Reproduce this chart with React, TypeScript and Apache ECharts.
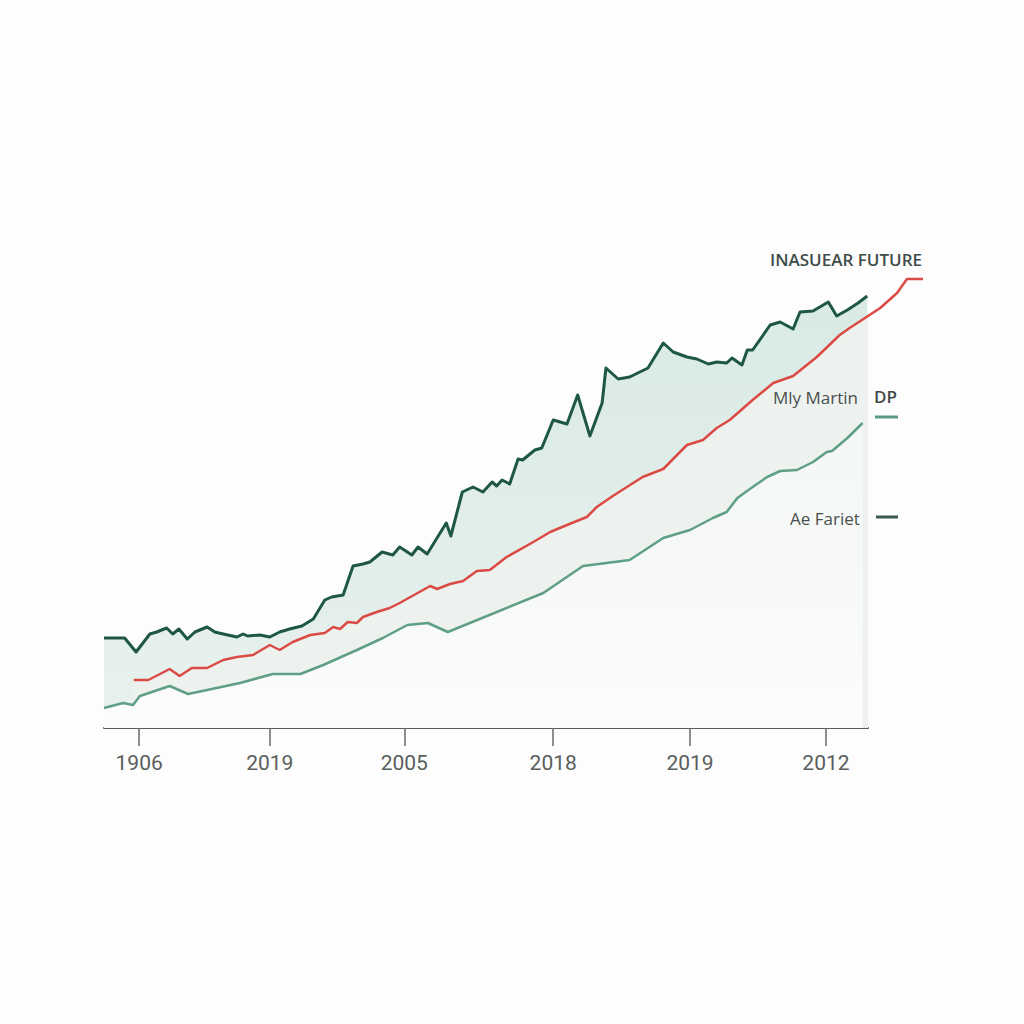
import React, { useEffect, useRef } from "react";
import * as echarts from "echarts";

// x: position along the timeline (0..100 inside the axis), y: value (0..100)
const darkSeries: [number, number][] = [
  [0, 18.0], [2.7, 18.0], [4.2, 15.2], [6.0, 18.8], [6.9, 19.2], [8.2, 20.0], [9.0, 18.8],
  [9.8, 19.8], [10.9, 17.8], [11.9, 19.2], [13.5, 20.2], [14.5, 19.2], [15.6, 18.8],
  [17.4, 18.2], [18.2, 18.8], [18.8, 18.4], [20.4, 18.6], [21.7, 18.2], [23.0, 19.2],
  [24.3, 19.8], [25.9, 20.4], [27.4, 21.8], [28.9, 25.6], [29.8, 26.2], [31.3, 26.6],
  [32.6, 32.4], [33.9, 32.8], [34.8, 33.2], [36.4, 35.2], [37.8, 34.6], [38.7, 36.2],
  [40.3, 34.6], [41.1, 36.2], [42.3, 34.8], [44.8, 41.0], [45.4, 38.4], [46.9, 47.2],
  [48.3, 48.2], [49.6, 47.2], [50.8, 49.2], [51.4, 48.4], [52.1, 49.6], [53.1, 48.8],
  [54.2, 53.8], [54.8, 53.6], [56.4, 55.6], [57.3, 56.0], [58.8, 61.6], [60.6, 60.8],
  [62.0, 66.6], [63.6, 58.4], [65.2, 65.0], [65.7, 72.0], [67.3, 69.8], [68.8, 70.2],
  [71.2, 72.0], [73.2, 77.0], [74.5, 75.2], [76.3, 74.2], [77.6, 73.8], [79.1, 72.8],
  [80.2, 73.2], [81.5, 73.0], [82.2, 74.0], [83.5, 72.6], [84.2, 75.6], [84.9, 75.6],
  [87.2, 80.6], [88.5, 81.2], [90.2, 79.8], [91.1, 83.2], [92.8, 83.4], [94.8, 85.2],
  [95.9, 82.4], [97.3, 83.6], [98.7, 85.0], [99.9, 86.4],
];

const redSeries: [number, number][] = [
  [3.9, 9.6], [5.8, 9.6], [8.6, 11.8], [9.9, 10.4], [11.5, 12.0], [13.5, 12.0], [15.6, 13.6],
  [17.4, 14.2], [19.5, 14.6], [21.7, 16.6], [23.0, 15.6], [24.7, 17.2], [27.0, 18.6],
  [28.9, 19.0], [30.0, 20.2], [30.9, 19.8], [31.9, 21.2], [33.1, 21.0], [33.9, 22.2],
  [35.7, 23.2], [37.4, 24.0], [38.7, 25.0], [42.7, 28.4], [43.6, 27.8], [45.3, 28.8],
  [47.0, 29.4], [48.8, 31.4], [50.5, 31.6], [52.7, 34.2], [56.2, 37.2], [58.4, 39.2],
  [60.6, 40.6], [63.2, 42.2], [64.5, 44.2], [66.6, 46.4], [70.5, 50.2], [73.2, 51.8],
  [76.3, 56.6], [78.4, 57.6], [80.2, 60.0], [81.9, 61.6], [84.9, 65.6], [87.6, 69.0],
  [90.2, 70.4], [93.3, 74.2], [96.3, 78.6], [97.6, 80.0], [101.6, 84.0], [103.8, 87.0],
  [105.1, 89.8], [107.2, 89.8],
];

const lightSeries: [number, number][] = [
  [0, 4.0], [2.5, 5.0], [3.8, 4.6], [4.7, 6.4], [8.6, 8.4], [11.0, 6.8], [13.5, 7.6],
  [17.8, 9.0], [22.1, 10.8], [25.7, 10.8], [28.7, 12.6], [33.1, 15.6], [36.5, 18.0],
  [39.7, 20.6], [42.4, 21.0], [45.0, 19.2], [57.5, 27.0], [62.7, 32.4], [68.8, 33.6],
  [73.2, 38.0], [76.7, 39.6], [79.7, 42.0], [81.5, 43.2], [82.9, 46.0], [84.9, 48.2],
  [86.8, 50.2], [88.5, 51.4], [90.7, 51.6], [92.8, 53.2], [94.6, 55.2], [95.3, 55.4],
  [97.3, 58.0], [99.3, 61.0],
];

const tickValues = [4.6, 21.7, 39.3, 58.8, 76.7, 94.5];
const tickLabels = ["1906", "2019", "2005", "2018", "2019", "2012"];

const X_MAX = 100; // end of the drawn axis
const X_EXT = 107.2; // the red line runs past the axis end

export default function App() {
  const ref = useRef<HTMLDivElement>(null);

  useEffect(() => {
    if (!ref.current) return;
    const chart = echarts.init(ref.current, null, { renderer: "svg" });

    const plotLeft = 104;
    const plotWidth = 764;
    const extWidth = (plotWidth * X_EXT) / X_MAX;

    const labelFont = { fontFamily: "'Open Sans'", fontSize: 17, fill: "#4a4f4e" };

    chart.setOption({
      animation: false,
      backgroundColor: "#fcfdfc",
      grid: [
        { left: plotLeft, width: plotWidth, top: 228, bottom: 296 },
        { left: plotLeft, width: extWidth, top: 228, bottom: 296 },
      ],
      xAxis: [
        {
          type: "value",
          gridIndex: 0,
          min: 0,
          max: X_MAX,
          splitLine: { show: false },
          axisLine: { show: true, lineStyle: { color: "#555b59", width: 2 } },
          axisTick: {
            show: true,
            customValues: tickValues,
            length: 18,
            lineStyle: { color: "#666c6a", width: 1.5 },
          },
          axisLabel: {
            show: true,
            customValues: tickValues,
            margin: 24,
            color: "#5a5e5d",
            fontFamily: "Roboto",
            fontSize: 21,
            formatter: (v: number) => {
              const i = tickValues.indexOf(v);
              return i >= 0 ? tickLabels[i] : "";
            },
          },
        },
        {
          type: "value",
          gridIndex: 1,
          min: 0,
          max: X_EXT,
          show: false,
        },
      ],
      yAxis: [
        { type: "value", gridIndex: 0, min: 0, max: 100, show: false },
        { type: "value", gridIndex: 1, min: 0, max: 100, show: false },
      ],
      series: [
        {
          type: "line",
          data: darkSeries,
          symbol: "none",
          z: 2,
          lineStyle: { color: "#1f5746", width: 3, join: "round" },
          areaStyle: {
            opacity: 1,
            color: new echarts.graphic.LinearGradient(0, 0, 0, 1, [
              { offset: 0, color: "#d9eae4" },
              { offset: 1, color: "#e8f1ee" },
            ]),
          },
        },
        {
          type: "line",
          data: redSeries,
          symbol: "none",
          z: 2,
          clip: true,
          lineStyle: { width: 0, opacity: 0 },
          areaStyle: { opacity: 1, color: "#edf2ef" },
        },
        {
          type: "line",
          data: lightSeries,
          symbol: "none",
          z: 3,
          lineStyle: { color: "#5f9f86", width: 2.5 },
          areaStyle: {
            opacity: 1,
            color: new echarts.graphic.LinearGradient(0, 0, 0, 1, [
              { offset: 0, color: "#f3f7f5" },
              { offset: 1, color: "#fbfcfb" },
            ]),
          },
        },
        {
          type: "line",
          xAxisIndex: 1,
          yAxisIndex: 1,
          data: redSeries,
          symbol: "none",
          z: 4,
          lineStyle: { color: "#db4a44", width: 2.5 },
        },
      ],
      graphic: [
        {
          type: "text",
          left: 770,
          top: 251,
          z: 10,
          style: {
            text: "INASUEAR FUTURE",
            fill: "#3e4c48",
            fontFamily: "'Open Sans'",
            fontWeight: 600,
            fontSize: 17,
          },
        },
        {
          type: "text",
          left: 773,
          top: 389,
          z: 10,
          style: { text: "Mly Martin", ...labelFont },
        },
        {
          type: "text",
          left: 874,
          top: 388,
          z: 10,
          style: {
            text: "DP",
            fill: "#3e4a47",
            fontFamily: "'Open Sans'",
            fontWeight: 600,
            fontSize: 17,
          },
        },
        {
          type: "line",
          z: 10,
          shape: { x1: 875, y1: 417, x2: 898, y2: 417 },
          style: { stroke: "#5a9a80", lineWidth: 3 },
        },
        {
          type: "text",
          left: 790,
          top: 510,
          z: 10,
          style: { text: "Ae Fariet", ...labelFont },
        },
        {
          type: "line",
          z: 10,
          shape: { x1: 876, y1: 517, x2: 898, y2: 517 },
          style: { stroke: "#3d5a50", lineWidth: 3 },
        },
      ],
    });
    return () => chart.dispose();
  }, []);

  return (
    <div
      ref={ref}
      style={{ position: "absolute", left: 0, top: 0, width: 1024, height: 1024 }}
    />
  );
}
